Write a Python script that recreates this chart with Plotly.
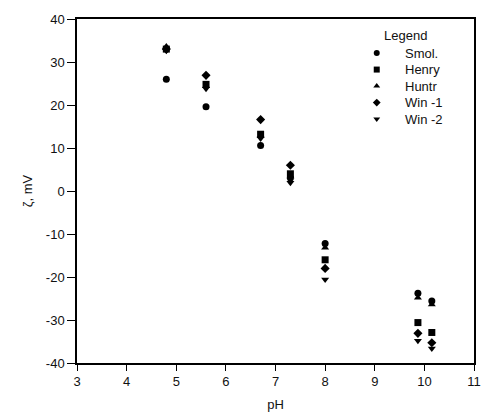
import plotly.graph_objects as go

# Zeta potential vs pH computed by five models
ph = [4.8, 5.6, 6.7, 7.3, 8.0, 9.87, 10.15]

smol = [26.0, 19.6, 10.6, 3.0, -12.2, -23.8, -25.6]
henry = [33.0, 24.8, 13.2, 4.0, -16.0, -30.6, -32.9]
huntr = [33.6, 24.4, 12.8, 3.4, -13.2, -24.8, -26.4]
win1 = [33.0, 26.9, 16.6, 6.0, -18.0, -33.1, -35.3]
win2 = [32.6, 23.8, 12.2, 1.9, -20.6, -34.8, -36.6]

series_names = ["Smol.", "Henry", "Huntr", "Win -1", "Win -2"]
series_values = [smol, henry, huntr, win1, win2]
series_symbols = ["circle", "square", "triangle-up", "diamond", "triangle-down"]

x_ticks = [3, 4, 5, 6, 7, 8, 9, 10, 11]
y_ticks = [-40, -30, -20, -10, 0, 10, 20, 30, 40]

legend_title = "Legend"

FONT = "Liberation Sans, Arial, sans-serif"
INK = "#111"

fig = go.Figure()
for name, vals, sym in zip(series_names, series_values, series_symbols):
    fig.add_trace(go.Scatter(
        x=ph, y=vals, mode="markers", name=name, showlegend=False,
        marker=dict(symbol=sym, size=7, color="black", line=dict(width=0)),
    ))

# Hand-placed legend box in the upper right, drawn on a hidden unit overlay axis
leg_x_marker = 0.755
leg_x_text = 0.822
leg_y0 = 0.901
leg_dy = 0.048
for i, (name, sym) in enumerate(zip(series_names, series_symbols)):
    yy = leg_y0 - i * leg_dy
    fig.add_trace(go.Scatter(
        x=[leg_x_marker], y=[yy], mode="markers", showlegend=False,
        xaxis="x2", yaxis="y2", hoverinfo="skip",
        marker=dict(symbol=sym, size=6, color="black", line=dict(width=0)),
    ))
    fig.add_annotation(
        x=leg_x_text, y=yy, xref="x2", yref="y2", text=name,
        showarrow=False, xanchor="left", yanchor="middle",
        font=dict(family=FONT, size=13, color=INK),
    )
fig.add_annotation(
    x=0.768, y=0.953, xref="x2", yref="y2", text=legend_title,
    showarrow=False, xanchor="left", yanchor="middle",
    font=dict(family=FONT, size=13, color=INK),
)

fig.update_layout(
    width=481, height=412,
    margin=dict(l=77, r=7, t=19, b=49),
    paper_bgcolor="white", plot_bgcolor="white",
    font=dict(family=FONT, size=13, color=INK),
    showlegend=False,
    xaxis=dict(
        range=[3, 11], tickvals=x_ticks, ticktext=[str(v) for v in x_ticks],
        showgrid=False, zeroline=False,
        showline=True, linecolor="black", linewidth=1.5, mirror=True,
        ticks="outside", ticklen=6, tickwidth=1, tickcolor="black",
        title=dict(text="pH", standoff=14, font=dict(size=13)),
        automargin=False,
    ),
    yaxis=dict(
        range=[-40, 40], tickvals=y_ticks, ticktext=[str(v) for v in y_ticks],
        showgrid=False, zeroline=False,
        showline=True, linecolor="black", linewidth=1.5, mirror=True,
        ticks="outside", ticklen=8, tickwidth=1, tickcolor="black",
        title=dict(text="ζ, mV", standoff=10, font=dict(size=13)),
        automargin=False,
    ),
    xaxis2=dict(range=[0, 1], overlaying="x", visible=False, fixedrange=True),
    yaxis2=dict(range=[0, 1], overlaying="y", visible=False, fixedrange=True),
)

fig.write_html("out.html")
